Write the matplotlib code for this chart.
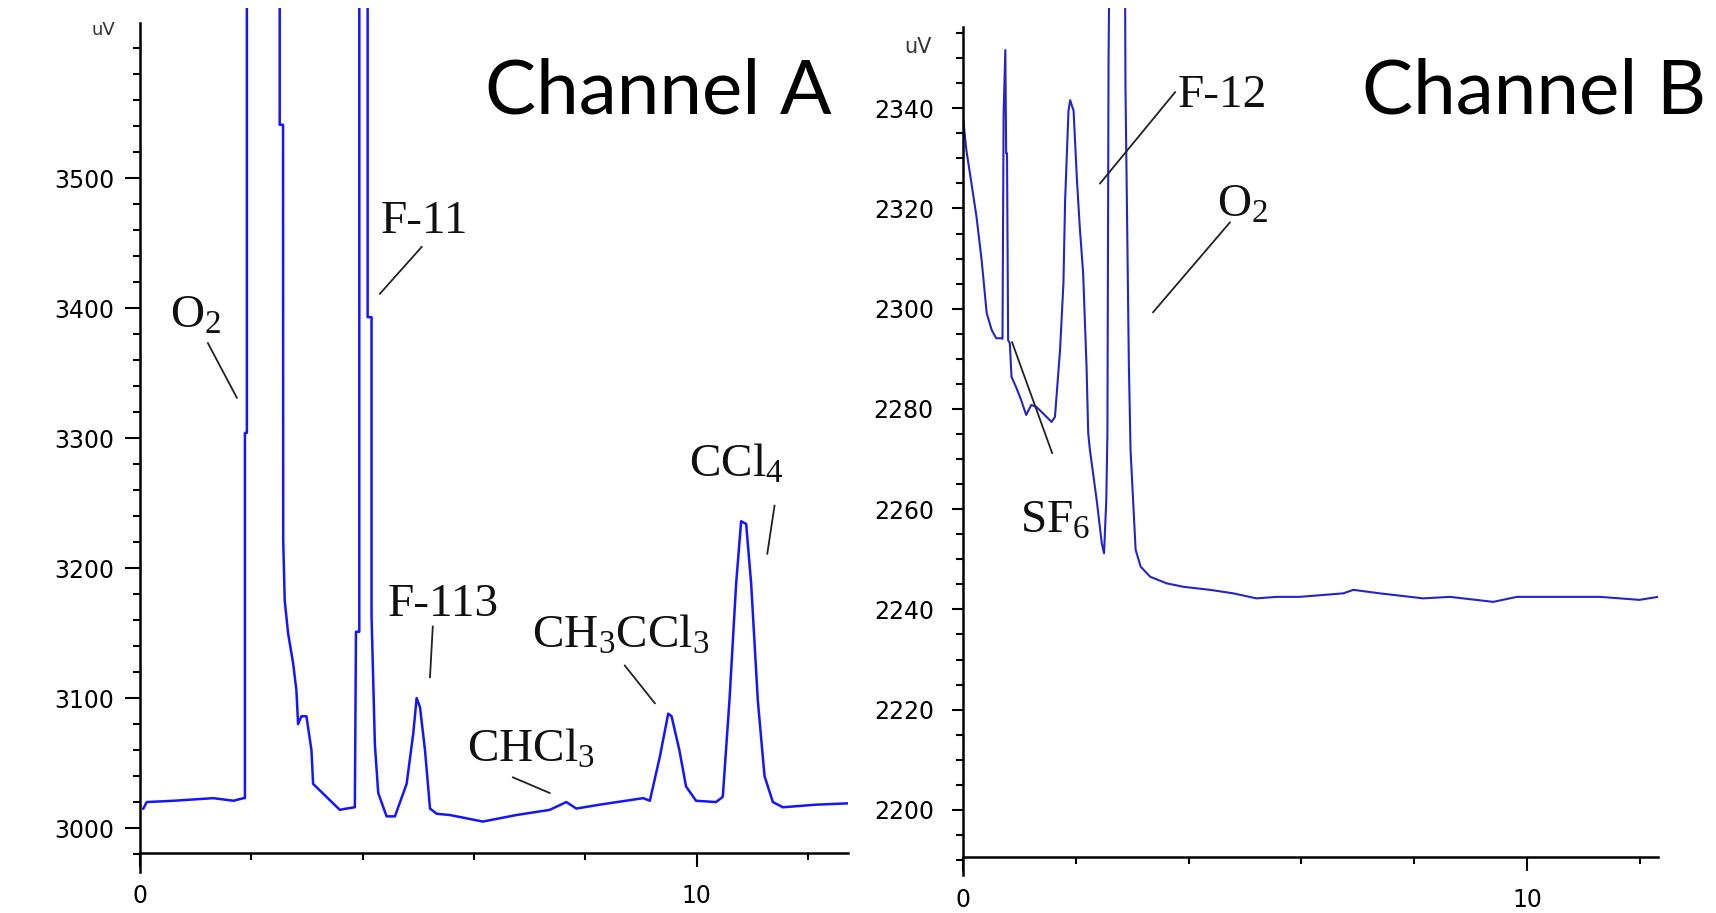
import matplotlib.pyplot as plt
from matplotlib.ticker import MultipleLocator, FixedLocator

plt.rcParams['mathtext.fontset'] = 'custom'
plt.rcParams['mathtext.rm'] = 'Liberation Serif'
plt.rcParams['mathtext.it'] = 'Liberation Serif'

# Channel A trace (time in min, signal in uV)
time_a = [0.06, 0.12, 0.60, 1.32, 1.68, 1.86, 1.885, 1.885, 1.92, 1.92,
          2.51, 2.51, 2.57, 2.573, 2.60, 2.66, 2.75, 2.81, 2.84, 2.90,
          2.99, 3.08, 3.11, 3.23, 3.59, 3.71, 3.86, 3.88, 3.94, 3.94,
          4.09, 4.09, 4.16, 4.16, 4.22, 4.28, 4.43, 4.58, 4.79, 4.91,
          4.97, 5.03, 5.12, 5.21, 5.33, 5.57, 6.16, 6.76, 7.36, 7.66,
          7.84, 8.26, 9.04, 9.16, 9.34, 9.49, 9.55, 9.69, 9.81, 9.99,
          10.35, 10.47, 10.59, 10.71, 10.80, 10.89, 10.98, 11.10, 11.22, 11.37,
          11.55, 12.15, 12.72]
signal_a = [3015, 3020, 3021, 3023, 3021, 3023, 3023, 3304, 3304, 3800,
            3800, 3541, 3541, 3221, 3175, 3150, 3127, 3106, 3080, 3086,
            3086, 3060, 3034, 3029, 3014, 3015, 3016, 3151, 3151, 3800,
            3800, 3393, 3393, 3163, 3064, 3027, 3009, 3009, 3034, 3073,
            3100, 3093, 3060, 3015, 3011, 3010, 3005, 3010, 3014, 3020,
            3015, 3018, 3023, 3021, 3055, 3088, 3086, 3060, 3032, 3021,
            3020, 3024, 3098, 3188, 3236, 3234, 3188, 3098, 3040, 3020,
            3016, 3018, 3019]

# Channel B trace
time_b = [0.006, 0.06, 0.15, 0.24, 0.33, 0.42, 0.51, 0.59, 0.68, 0.70,
          0.72, 0.75, 0.765, 0.78, 0.80, 0.83, 0.86, 0.95, 1.03, 1.12,
          1.21, 1.30, 1.42, 1.57, 1.63, 1.72, 1.78, 1.81, 1.87, 1.90,
          1.96, 2.02, 2.07, 2.13, 2.19, 2.22, 2.25, 2.37, 2.46, 2.50,
          2.54, 2.56, 2.58, 2.62, 2.86, 2.88, 2.94, 2.97, 3.03, 3.06,
          3.15, 3.32, 3.61, 3.91, 4.38, 4.79, 5.20, 5.56, 5.97, 6.74,
          6.92, 7.39, 8.16, 8.63, 9.40, 9.82, 11.29, 11.99, 12.32]
signal_b = [2337.6, 2331.6, 2325.0, 2318.3, 2309.7, 2299.1, 2295.7, 2294.1, 2294.1, 2294.0,
            2339.0, 2351.6, 2331.0, 2331.0, 2293.7, 2293.1, 2286.4, 2284.1, 2281.8, 2278.8,
            2280.8, 2280.4, 2279.1, 2277.4, 2278.4, 2291.7, 2305.0, 2321.6, 2339.5, 2341.6,
            2339.5, 2325.6, 2316.3, 2307.0, 2288.4, 2275.1, 2271.8, 2261.8, 2253.2, 2251.2,
            2261.8, 2275.0, 2349.6, 2400.0, 2400.0, 2344.3, 2289.0, 2271.8, 2258.5, 2251.9,
            2248.5, 2246.5, 2245.2, 2244.5, 2243.9, 2243.2, 2242.2, 2242.5, 2242.5, 2243.2,
            2243.9, 2243.2, 2242.2, 2242.5, 2241.5, 2242.5, 2242.5, 2241.9, 2242.5]

# peak labels: text, text x, text y, leader start (x, y), leader end (x, y)
labels_a = [r'$\mathrm{O_2}$', 'F-11', 'F-113', r'$\mathrm{CHCl_3}$',
            r'$\mathrm{CH_3CCl_3}$', r'$\mathrm{CCl_4}$']
label_pos_a = [(0.54, 3385), (4.33, 3458), (4.45, 3163), (5.87, 3051),
               (7.04, 3139), (9.87, 3270)]
leaders_a = [((1.22, 3373), (1.74, 3331)), ((5.06, 3447), (4.31, 3411)),
             ((5.26, 3155), (5.21, 3116)), ((6.70, 3039), (7.36, 3027)),
             ((8.71, 3125), (9.25, 3096)), ((11.40, 3248), (11.27, 3211))]

labels_b = ['F-12', r'$\mathrm{O_2}$', r'$\mathrm{SF_6}$']
label_pos_b = [(3.81, 2340.2), (4.50, 2318.3), (1.01, 2255.4)]
leaders_b = [((3.76, 2343.2), (2.43, 2325.0)), ((4.73, 2317.2), (3.37, 2299.3)),
             ((0.87, 2293.3), (1.58, 2271.2))]

W, H = 1716, 913
fig = plt.figure(figsize=(W / 100, H / 100), dpi=100)
fig.patch.set_facecolor('white')

ax_a = fig.add_axes([140 / W, 1 - 872 / H, (848 - 140) / W, (872 - 8) / H])
ax_b = fig.add_axes([963 / W, 1 - 875 / H, (1658 - 963) / W, (875 - 8) / H])

ax_a.plot(time_a, signal_a, color='#1414ff', lw=1.8)
ax_b.plot(time_b, signal_b, color='#2424c8', lw=1.5)

ax_a.set_xlim(0, 12.72)
ax_a.set_ylim(2966.2, 3630.8)
ax_b.set_xlim(0, 12.32)
ax_b.set_ylim(2187.0, 2360.0)

for ax, x_axis_val, spine_top in [(ax_a, 2980.8, 3619.2), (ax_b, 2190.6, 2356.2)]:
    ax.spines['top'].set_visible(False)
    ax.spines['right'].set_visible(False)
    ax.spines['bottom'].set_position(('data', x_axis_val))
    ax.spines['left'].set_bounds(ax.get_ylim()[0], spine_top)
    for s in ['left', 'bottom']:
        ax.spines[s].set_linewidth(1.8)
    ax.xaxis.set_major_locator(MultipleLocator(10))
    ax.xaxis.set_minor_locator(MultipleLocator(2))
    ax.tick_params(axis='x', which='major', length=10, width=1.5, pad=12, labelsize=17)
    ax.tick_params(axis='x', which='minor', length=5, width=1.5)
    ax.set_facecolor('white')

ax_a.yaxis.set_major_locator(FixedLocator([3000, 3100, 3200, 3300, 3400, 3500]))
ax_a.yaxis.set_minor_locator(FixedLocator(list(range(2980, 3620, 20))))
ax_a.tick_params(axis='y', which='major', length=10.5, width=1.5, pad=8, labelsize=17)
ax_a.tick_params(axis='y', which='minor', length=5, width=1.5)

ax_b.yaxis.set_major_locator(FixedLocator([2200, 2220, 2240, 2260, 2280, 2300, 2320, 2340]))
ax_b.yaxis.set_minor_locator(FixedLocator(list(range(2190, 2356, 5))))
ax_b.tick_params(axis='y', which='major', length=8, width=1.5, pad=13, labelsize=17)
ax_b.tick_params(axis='y', which='minor', length=5, width=1.5)

ax_a.text(-0.035, 0.975, 'uV', transform=ax_a.transAxes, ha='right', va='center',
          fontsize=13, color='#333333')
ax_b.text(-0.045, 0.955, 'uV', transform=ax_b.transAxes, ha='right', va='center',
          fontsize=15, color='#333333')

for ax, labels, pos, leaders in [(ax_a, labels_a, label_pos_a, leaders_a),
                                 (ax_b, labels_b, label_pos_b, leaders_b)]:
    for txt, (tx, ty), ((x0, y0), (x1, y1)) in zip(labels, pos, leaders):
        ax.text(tx, ty, txt, ha='left', va='baseline', fontsize=34,
                family='Liberation Serif', color='#111111')
        ax.plot([x0, x1], [y0, y1], color='#222222', lw=1.3)

fig.text(485 / W, 1 - 113 / H, 'Channel A', ha='left', va='baseline',
         fontsize=55, family='Lato', color='black')
fig.text(1362 / W, 1 - 113 / H, 'Channel B', ha='left', va='baseline',
         fontsize=55, family='Lato', color='black')

fig.savefig('out.png', dpi=100, facecolor='white')
